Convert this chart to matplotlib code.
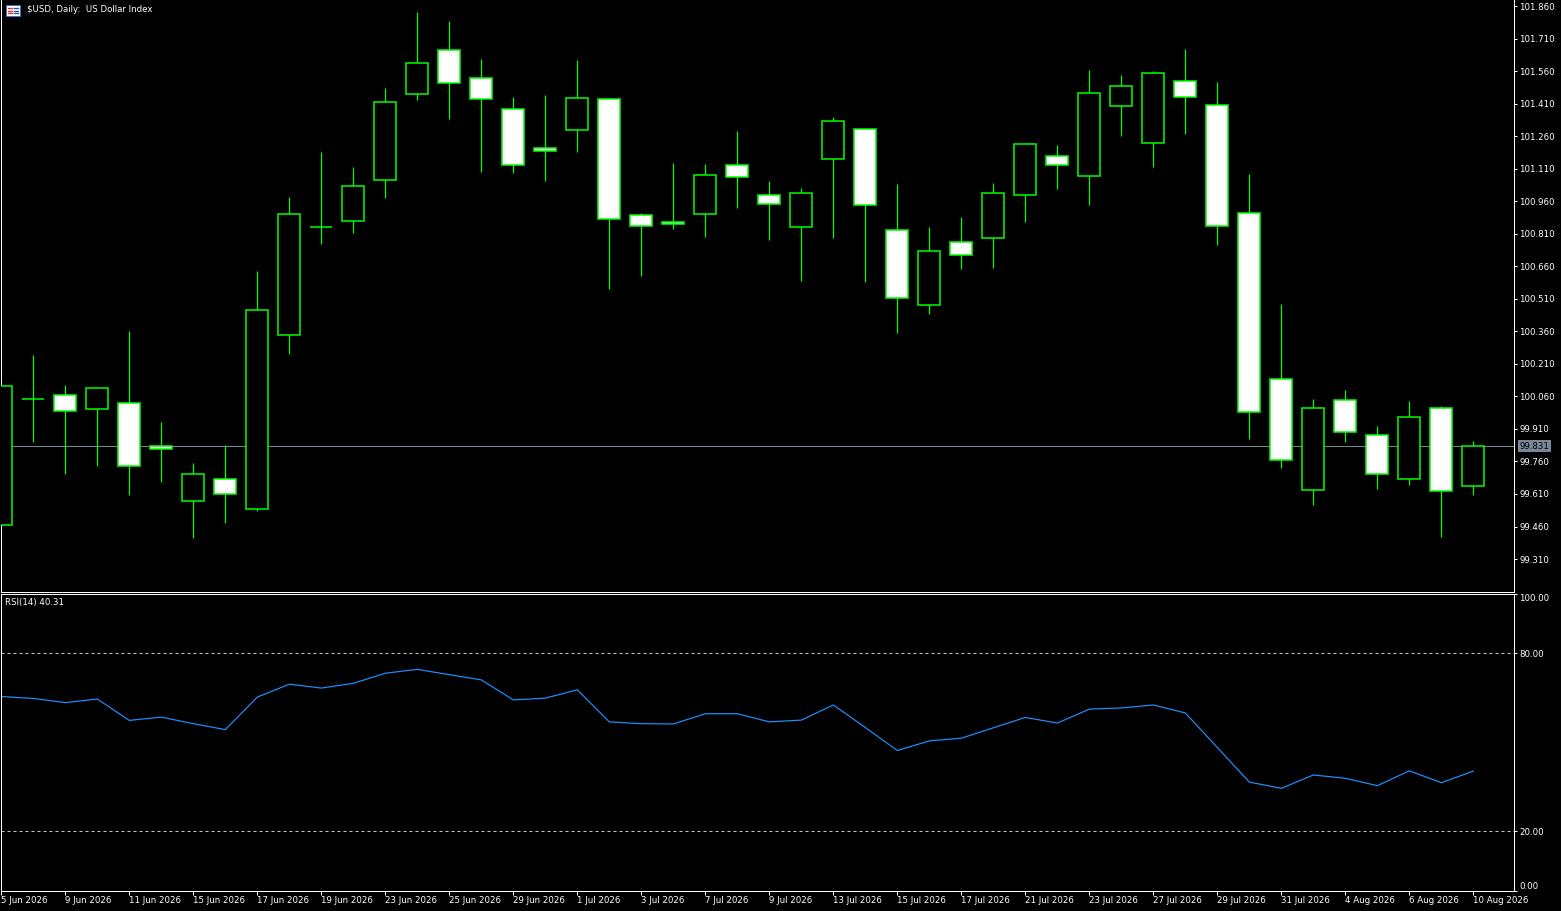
import matplotlib
matplotlib.use("Agg")
import matplotlib.pyplot as plt
from matplotlib.patches import Rectangle

# daily OHLC of $USD, 5 Jun 2026 .. 10 Aug 2026
opens = [99.466, 100.050, 100.065, 100.001, 100.028, 99.830, 99.576, 99.678, 99.542, 100.342,
         100.841, 100.867, 101.056, 101.453, 101.656, 101.527, 101.384, 101.204, 101.287, 101.430,
         100.895, 100.863, 100.900, 101.126, 100.987, 100.840, 101.153, 101.292, 100.826, 100.481,
         100.771, 100.789, 100.987, 101.170, 101.075, 101.398, 101.227, 101.513, 101.402, 100.904,
         100.139, 99.627, 100.042, 99.881, 99.678, 100.005, 99.646]
highs = [100.107, 100.251, 100.113, 100.100, 100.362, 99.942, 99.753, 99.836, 100.638, 100.979,
         101.187, 101.118, 101.482, 101.832, 101.791, 101.616, 101.440, 101.450, 101.611, 101.436,
         100.906, 101.136, 101.132, 101.284, 101.053, 101.021, 101.348, 101.293, 101.039, 100.841,
         100.887, 101.044, 101.228, 101.219, 101.565, 101.542, 101.560, 101.662, 101.510, 101.085,
         100.486, 100.048, 100.090, 99.924, 100.039, 100.016, 99.854]
lows = [99.466, 99.851, 99.704, 99.741, 99.607, 99.667, 99.409, 99.478, 99.530, 100.257,
        100.764, 100.815, 100.976, 101.428, 101.340, 101.096, 101.091, 101.055, 101.188, 100.557,
        100.617, 100.833, 100.796, 100.930, 100.783, 100.594, 100.792, 100.589, 100.352, 100.440,
        100.649, 100.653, 100.866, 101.018, 100.944, 101.262, 101.119, 101.271, 100.760, 99.865,
        99.731, 99.561, 99.851, 99.635, 99.653, 99.413, 99.607]
closes = [100.107, 100.050, 99.991, 100.097, 99.738, 99.816, 99.702, 99.609, 100.457, 100.900,
          100.841, 101.029, 101.416, 101.596, 101.504, 101.430, 101.126, 101.190, 101.434, 100.877,
          100.844, 100.854, 101.079, 101.070, 100.946, 100.996, 101.328, 100.941, 100.514, 100.729,
          100.711, 100.996, 101.222, 101.127, 101.458, 101.490, 101.550, 101.439, 100.844, 99.987,
          99.765, 100.005, 99.895, 99.701, 99.964, 99.623, 99.831]

# RSI(14)
rsi = [65.45, 64.8, 63.4, 64.6, 57.4, 58.5, 56.3, 54.3, 65.25, 69.6,
       68.3, 69.9, 73.3, 74.6, 72.8, 71.05, 64.3, 64.9, 67.7, 56.9,
       56.3, 56.2, 59.65, 59.65, 56.9, 57.5, 62.6, 55.0, 47.25, 50.5,
       51.4, 54.9, 58.4, 56.5, 61.2, 61.6, 62.6, 59.9, 48.25, 36.6,
       34.5, 39.0, 37.9, 35.4, 40.4, 36.4, 40.31]

date_labels = ["5 Jun 2026", "9 Jun 2026", "11 Jun 2026", "15 Jun 2026", "17 Jun 2026",
               "19 Jun 2026", "23 Jun 2026", "25 Jun 2026", "29 Jun 2026", "1 Jul 2026",
               "3 Jul 2026", "7 Jul 2026", "9 Jul 2026", "13 Jul 2026", "15 Jul 2026",
               "17 Jul 2026", "21 Jul 2026", "23 Jul 2026", "27 Jul 2026", "29 Jul 2026",
               "31 Jul 2026", "4 Aug 2026", "6 Aug 2026", "10 Aug 2026"]
price_ticks = [99.31, 99.46, 99.61, 99.76, 99.91, 100.06, 100.21, 100.36, 100.51,
               100.66, 100.81, 100.96, 101.11, 101.26, 101.41, 101.56, 101.71, 101.86]
rsi_ticks = [0, 20, 80, 100]
rsi_levels = [20, 80]

W, H = 1561, 911
GREEN = "#00ff00"
PX = 0.72  # one pixel in points at dpi 100
FS = 6.2

plt.rcParams["font.family"] = ["DejaVu Sans"]
plt.rcParams["font.size"] = FS

fig = plt.figure(figsize=(W / 100, H / 100), dpi=100, facecolor="black")
ax = fig.add_axes([1 / W, 1 - 592 / H, 1513 / W, 592 / H])
ax2 = fig.add_axes([1 / W, 1 - 890.7 / H, 1513 / W, (890.7 - 594) / H])

for a in (ax, ax2):
    a.set_facecolor("black")
    a.set_xlim(-0.01, 47.27)
    for s in a.spines.values():
        s.set_color("white")
        s.set_linewidth(PX)
ax.spines["top"].set_visible(False)

# candles
bw = 0.69
for i in range(len(opens)):
    o, h, l, c = opens[i], highs[i], lows[i], closes[i]
    ax.plot([i, i], [l, h], color=GREEN, lw=PX * 1.2, zorder=2, solid_capstyle="butt")
    fill = "black" if c > o else "white"
    lo = min(o, c)
    ax.add_patch(Rectangle((i - bw / 2, lo), bw, abs(c - o), facecolor=fill,
                           edgecolor=GREEN, lw=1.1, zorder=3))

# last price line and label
ax.axhline(closes[-1], color="#778899", lw=PX, zorder=1)
ax.text(1.0035, closes[-1], "%.3f" % closes[-1], transform=ax.get_yaxis_transform(),
        ha="left", va="center", color="black", fontsize=FS,
        bbox=dict(boxstyle="square,pad=0.18", fc="#778899", ec="none"), zorder=5)

ax.set_ylim(99.158, 101.888)
ax.yaxis.tick_right()
ax.set_yticks(price_ticks)
ax.set_yticklabels(["%.3f" % t for t in price_ticks])
ax.tick_params(axis="y", colors="white", length=2.2, width=PX, pad=1.5, labelsize=FS)
ax.set_xticks([])

# RSI panel
ax2.plot(range(len(rsi)), rsi, color="#1e90ff", lw=PX * 1.2)
for lv in rsi_levels:
    ax2.axhline(lv, color="#c8c8c8", lw=PX, linestyle=(0, (3, 3)))
ax2.set_ylim(0, 100)
ax2.yaxis.tick_right()
ax2.set_yticks(rsi_ticks)
ax2.set_yticklabels(["%.2f" % t for t in rsi_ticks])
ax2.tick_params(axis="y", colors="white", length=2.2, width=PX, pad=1.5, labelsize=FS)
ylabs = ax2.get_yticklabels()
ylabs[0].set_va("bottom")
ylabs[-1].set_va("top")

ax2.set_xticks(range(0, 47, 2))
ax2.set_xticklabels(date_labels)
ax2.tick_params(axis="x", colors="white", length=3, width=PX, pad=1, labelsize=FS)
for t in ax2.get_xticklabels():
    t.set_ha("left")

# header texts
fig.text(27 / W, 1 - 10 / H, r"\$USD, Daily:  US Dollar Index", color="white",
         ha="left", va="center", fontsize=FS)
fig.text(5 / W, 1 - 603 / H, "RSI(14) %.2f" % rsi[-1], color="white",
         ha="left", va="center", fontsize=FS)

# little window icon next to the title
ix, iy, iw, ih = 6 / W, 1 - 16 / H, 14 / W, 11 / H
fig.add_artist(Rectangle((ix, iy), iw, ih, transform=fig.transFigure,
                         facecolor="white", edgecolor="#3a6fc4", lw=PX))
for k in range(3):
    yy = iy + ih * (0.25 + 0.25 * k)
    fig.add_artist(plt.Line2D([ix + iw * 0.12, ix + iw * 0.45], [yy, yy],
                              transform=fig.transFigure, color="#e03020", lw=PX * 1.3))
    fig.add_artist(plt.Line2D([ix + iw * 0.55, ix + iw * 0.88], [yy, yy],
                              transform=fig.transFigure, color="#2050c0", lw=PX * 1.3))

fig.savefig("out.png", dpi=100, facecolor="black")
